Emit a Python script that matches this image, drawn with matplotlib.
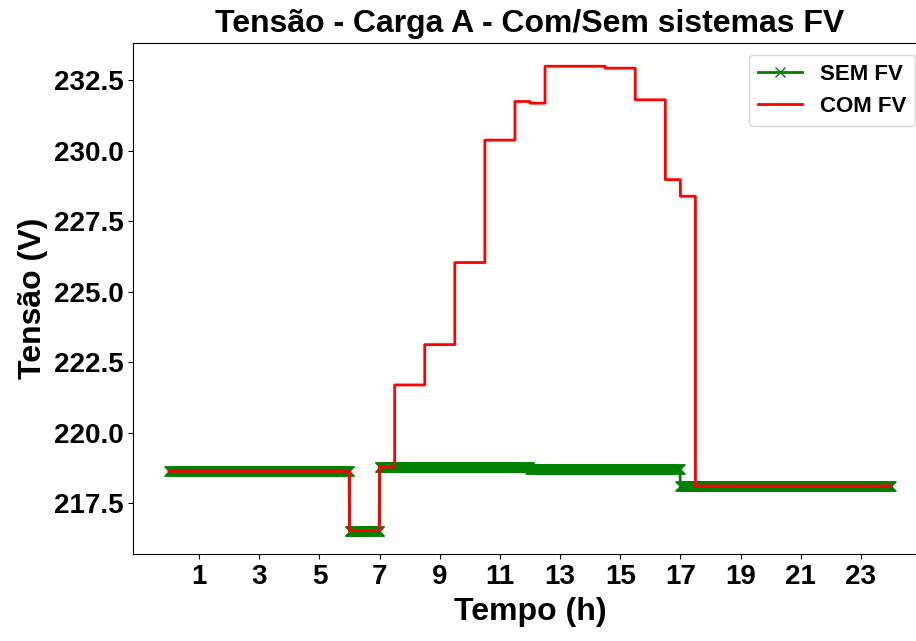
import numpy as np
import matplotlib.pyplot as plt

plt.rcParams['font.family'] = ['Liberation Sans', 'DejaVu Sans']
plt.rcParams['font.weight'] = 'bold'

# limites dos patamares (h) e tensoes em cada patamar (V)
sem_fv_h = [0, 6, 7, 12, 17, 24]
sem_fv_v = [218.63, 216.52, 218.78, 218.70, 218.10]

com_fv_h = [0, 6, 7, 7.5, 8.5, 9.5, 10.5, 11.5, 12, 12.5, 14.5, 15.5, 16.5, 17, 17.5, 24]
com_fv_v = [218.63, 216.52, 218.78, 221.69, 223.12, 226.03, 230.37, 231.74,
            231.68, 232.99, 232.92, 231.80, 228.97, 228.38, 218.11]

# amostragem por minuto
t = np.arange(0, 24 * 60 + 1) / 60.0

def patamares(h, v):
    idx = np.searchsorted(h, t, side='right') - 1
    idx = np.clip(idx, 0, len(v) - 1)
    return np.array(v)[idx]

v_sem = patamares(sem_fv_h, sem_fv_v)
v_com = patamares(com_fv_h, com_fv_v)

fig = plt.figure(figsize=(9.16, 6.41), dpi=100)
ax = fig.add_axes([133 / 916, 87 / 641, 794 / 916, 511 / 641])

ax.plot(t, v_sem, color='green', marker='x', markersize=6.5, linewidth=2, label='SEM FV')
ax.plot(t, v_com, color='red', linewidth=2, drawstyle='steps-post', label='COM FV')

ax.set_xticks(np.arange(1, 24, 2))
ax.tick_params(labelsize=20)
for lab in ax.get_xticklabels() + ax.get_yticklabels():
    lab.set_fontweight('bold')

ax.set_title('Tensão - Carga A - Com/Sem sistemas FV', fontsize=23, fontweight='bold', pad=8)
ax.set_xlabel('Tempo (h)', fontsize=23, fontweight='bold', labelpad=5)
ax.set_ylabel('Tensão (V)', fontsize=23, fontweight='bold')

ax.legend(loc='upper right', bbox_to_anchor=(915 / 916, 586 / 641),
          bbox_transform=fig.transFigure, borderaxespad=0,
          prop={'size': 16, 'weight': 'bold'}, markerscale=1)

fig.savefig('out.png', dpi=100)
